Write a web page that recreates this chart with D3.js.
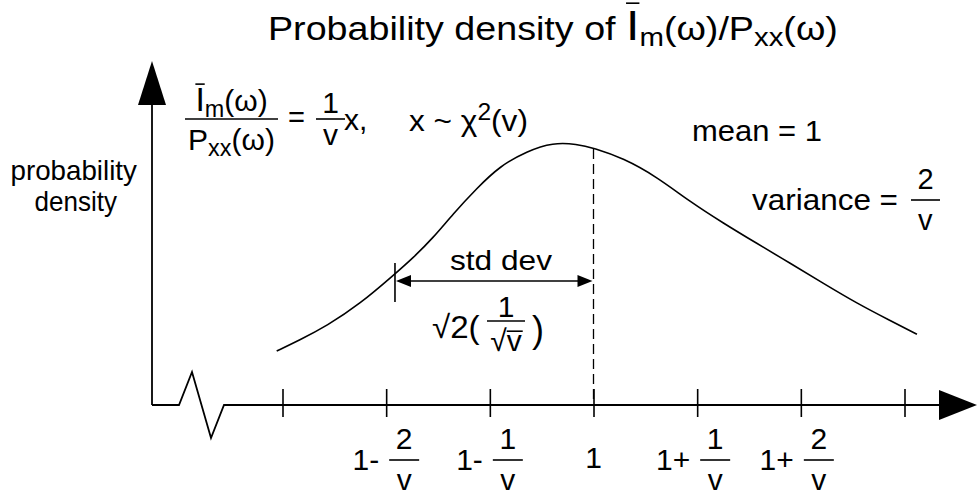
<!DOCTYPE html>
<html>
<head>
<meta charset="utf-8">
<script src="https://cdn.jsdelivr.net/npm/d3@7"></script>
<style>
  html, body { margin: 0; padding: 0; background: #fff; }
  svg { display: block; }
  text { font-family: "Liberation Sans", Arial, Helvetica, sans-serif; fill: #000; }
</style>
</head>
<body>
<svg id="chart" width="977" height="496"></svg>
<script>
// Sketched density of the averaged periodogram ratio, x in units of 1/v around the mean
const densityX = [-3.056, -2.834, -2.573, -2.254, -1.916, -1.742, -1.549, -1.356, -1.124, -0.903, -0.642, -0.391, -0.159,
                  0.000, 0.288, 0.610, 0.931, 1.253, 1.575, 1.897, 2.218, 2.541, 2.862, 3.120];
const densityY = [0.206, 0.248, 0.302, 0.385, 0.500, 0.561, 0.637, 0.729, 0.828, 0.912, 0.969, 1.002, 0.996,
                  0.981, 0.942, 0.871, 0.776, 0.694, 0.617, 0.541, 0.464, 0.388, 0.322, 0.270];

// Axis ticks and their labels (lead text plus optional fraction)
const tickValues = [-3, -2, -1, 0, 1, 2, 3];
const tickLead = ["", "1-", "1-", "1", "1+", "1+", ""];
const tickNum  = ["", "2", "1", "", "1", "2", ""];
const tickDen  = ["", "v", "v", "", "v", "v", ""];

// Mean position and the left end of the std dev bracket
const meanValue = 0;
const stdDevStart = -1.915;

const svg = d3.select("#chart");
const ink = "#000";

const x = d3.scaleLinear().domain([-3, 3]).range([282.5, 904.5]);
const y = d3.scaleLinear().domain([0, 1]).range([405, 143]);

const axisY = y(0);
const yAxisX = 152;

// ---------- text helpers ----------
// parts: [{t, sub, sup, scale, over, overY}]
function richText(parent, parts, opt) {
  const g = parent.append("g");
  const inner = g.append("g");
  const txt = inner.append("text").attr("font-size", opt.size).attr("x", 0).attr("y", 0);
  let shift = 0;
  parts.forEach(p => {
    const fs = opt.size * (p.scale || ((p.sub || p.sup) ? 0.78 : 1));
    const target = p.sub ? opt.size * 0.2 : p.sup ? -opt.size * 0.36 : 0;
    txt.append("tspan").attr("font-size", fs).attr("dy", target - shift).text(p.t);
    shift = target;
  });
  const bb = txt.node().getBBox();
  const w = bb.width;
  const sx = opt.width ? opt.width / w : (opt.stretch || 1);
  let x0 = opt.x;
  if (opt.anchor === "middle") x0 = opt.x - w * sx / 2;
  else if (opt.anchor === "end") x0 = opt.x - w * sx;
  inner.attr("transform", `translate(${x0},${opt.y}) scale(${sx},1) translate(${-bb.x},0)`);
  let idx = 0;
  parts.forEach(p => {
    if (p.over) {
      const fs = opt.size * (p.scale || 1);
      const e0 = txt.node().getExtentOfChar(idx);
      const e1 = txt.node().getExtentOfChar(idx + p.t.length - 1);
      const oy = -(p.overY || 0.86) * fs;
      inner.append("line")
        .attr("x1", e0.x + (p.padL || 0)).attr("x2", e1.x + e1.width - (p.padR || 0))
        .attr("y1", oy).attr("y2", oy)
        .attr("stroke", ink).attr("stroke-width", 1.6);
    }
    idx += p.t.length;
  });
  return g;
}

function fraction(parent, cx, barY, halfW, num, den, opt) {
  parent.append("line")
    .attr("x1", cx - halfW).attr("x2", cx + halfW)
    .attr("y1", barY).attr("y2", barY)
    .attr("stroke", ink).attr("stroke-width", 1.6);
  richText(parent, num, { x: cx, y: barY - opt.numGap, size: opt.size, anchor: "middle", stretch: opt.stretch });
  richText(parent, den, { x: cx, y: barY + opt.denGap, size: opt.size, anchor: "middle", stretch: opt.stretch });
}

// ---------- axes ----------
const axisG = svg.append("g").attr("transform", `translate(0,${axisY})`);
axisG.call(d3.axisBottom(x).tickValues(tickValues).tickFormat("").tickSizeOuter(0));
axisG.select(".domain").remove();
axisG.selectAll(".tick line")
  .attr("y1", -16).attr("y2", 12)
  .attr("stroke", ink).attr("stroke-width", 1.6);

// horizontal axis with a break symbol near the origin
const breakPts = [[yAxisX, axisY], [179, axisY], [192, axisY - 33], [211, axisY + 33], [224, axisY], [944, axisY]];
svg.append("path")
  .attr("d", d3.line()(breakPts))
  .attr("fill", "none").attr("stroke", ink).attr("stroke-width", 1.8)
  .attr("stroke-linejoin", "miter");
svg.append("path")
  .attr("d", d3.line()([[939, axisY - 15], [977, axisY], [939, axisY + 15]]) + "Z")
  .attr("fill", ink);

// vertical axis with arrow
svg.append("line")
  .attr("x1", yAxisX).attr("x2", yAxisX).attr("y1", axisY).attr("y2", 100)
  .attr("stroke", ink).attr("stroke-width", 1.8);
svg.append("path")
  .attr("d", d3.line()([[yAxisX - 14, 105], [yAxisX, 61], [yAxisX + 14, 105]]) + "Z")
  .attr("fill", ink);

// ---------- density curve ----------
const curvePts = densityX.map((d, i) => [d, densityY[i]]);
svg.append("path")
  .datum(curvePts)
  .attr("d", d3.line().x(d => x(d[0])).y(d => y(d[1])).curve(d3.curveBasis))
  .attr("fill", "none").attr("stroke", ink).attr("stroke-width", 1.6);

// dashed mean line
const meanIdx = densityX.indexOf(meanValue);
svg.append("line")
  .attr("x1", x(meanValue)).attr("x2", x(meanValue))
  .attr("y1", y(densityY[meanIdx]) + 1).attr("y2", axisY)
  .attr("stroke", ink).attr("stroke-width", 1.3).attr("stroke-dasharray", "10,5");

// std dev bracket
const sdY = 281;
const sdX0 = x(stdDevStart), sdX1 = x(meanValue) - 1;
svg.append("line")
  .attr("x1", sdX0).attr("x2", sdX0).attr("y1", 263).attr("y2", 302)
  .attr("stroke", ink).attr("stroke-width", 1.6);
svg.append("line")
  .attr("x1", sdX0 + 4).attr("x2", sdX1 - 4).attr("y1", sdY).attr("y2", sdY)
  .attr("stroke", ink).attr("stroke-width", 1.6);
svg.append("path")
  .attr("d", d3.line()([[sdX0 + 16, sdY - 6], [sdX0 + 1, sdY], [sdX0 + 16, sdY + 6]]) + "Z")
  .attr("fill", ink);
svg.append("path")
  .attr("d", d3.line()([[sdX1 - 15, sdY - 6], [sdX1, sdY], [sdX1 - 15, sdY + 6]]) + "Z")
  .attr("fill", ink);

// ---------- tick labels ----------
const tickSize = 30;
tickValues.forEach((v, i) => {
  const tx = x(v);
  if (!tickLead[i]) return;
  if (!tickNum[i]) {
    richText(svg, [{ t: tickLead[i] }], { x: tx, y: 468, size: tickSize, anchor: "middle" });
    return;
  }
  richText(svg, [{ t: tickLead[i] }], { x: tx - 7, y: 470, size: tickSize, anchor: "end" });
  fraction(svg, tx + 18, 460, 15, [{ t: tickNum[i] }], [{ t: tickDen[i] }],
    { size: tickSize, numGap: 11, denGap: 30 });
});

// ---------- title ----------
richText(svg, [
  { t: "Probability density of " },
  { t: "I", scale: 1.28, over: true, overY: 0.86 },
  { t: "m", sub: true },
  { t: "(ω)/P" },
  { t: "xx", sub: true },
  { t: "(ω)" }
], { x: 268, y: 39.5, size: 33, width: 570 });

// ---------- y label ----------
richText(svg, [{ t: "probability" }], { x: 74, y: 180, size: 27, anchor: "middle", width: 127 });
richText(svg, [{ t: "density" }], { x: 76, y: 211, size: 27, anchor: "middle", width: 83 });

// ---------- ratio formula ----------
const fSize = 30;
fraction(svg, 231.5, 119, 46.5,
  [{ t: "I", scale: 1.12, over: true, overY: 0.8 }, { t: "m", sub: true }, { t: "(ω)" }],
  [{ t: "P" }, { t: "xx", sub: true }, { t: "(ω)" }],
  { size: fSize, numGap: 8, denGap: 31 });
richText(svg, [{ t: "=" }], { x: 288, y: 127, size: fSize, width: 17 });
fraction(svg, 330.5, 119, 14.5, [{ t: "1" }], [{ t: "v" }], { size: fSize, numGap: 6, denGap: 26 });
richText(svg, [{ t: "x," }], { x: 344, y: 130, size: fSize });
richText(svg, [{ t: "x ~ χ" }, { t: "2", sup: true }, { t: "(v)" }], { x: 409, y: 131, size: fSize, width: 119 });

// ---------- moments ----------
richText(svg, [{ t: "mean = 1" }], { x: 692, y: 141, size: 29, width: 130 });
richText(svg, [{ t: "variance =" }], { x: 752, y: 210, size: 29, width: 146 });
fraction(svg, 925.5, 200, 14.5, [{ t: "2" }], [{ t: "v" }], { size: 29, numGap: 11, denGap: 30 });

// ---------- std dev annotation ----------
richText(svg, [{ t: "std dev" }], { x: 501, y: 270, size: 28, anchor: "middle", width: 102 });
richText(svg, [{ t: "√2(" }], { x: 432, y: 338, size: 32, width: 48 });
fraction(svg, 506, 321, 19, [{ t: "1" }],
  [{ t: "√" }, { t: "v", over: true, overY: 0.66, padR: -1 }],
  { size: 30, numGap: 4, denGap: 30 });
richText(svg, [{ t: ")" }], { x: 532, y: 342, size: 36 });
</script>
</body>
</html>
